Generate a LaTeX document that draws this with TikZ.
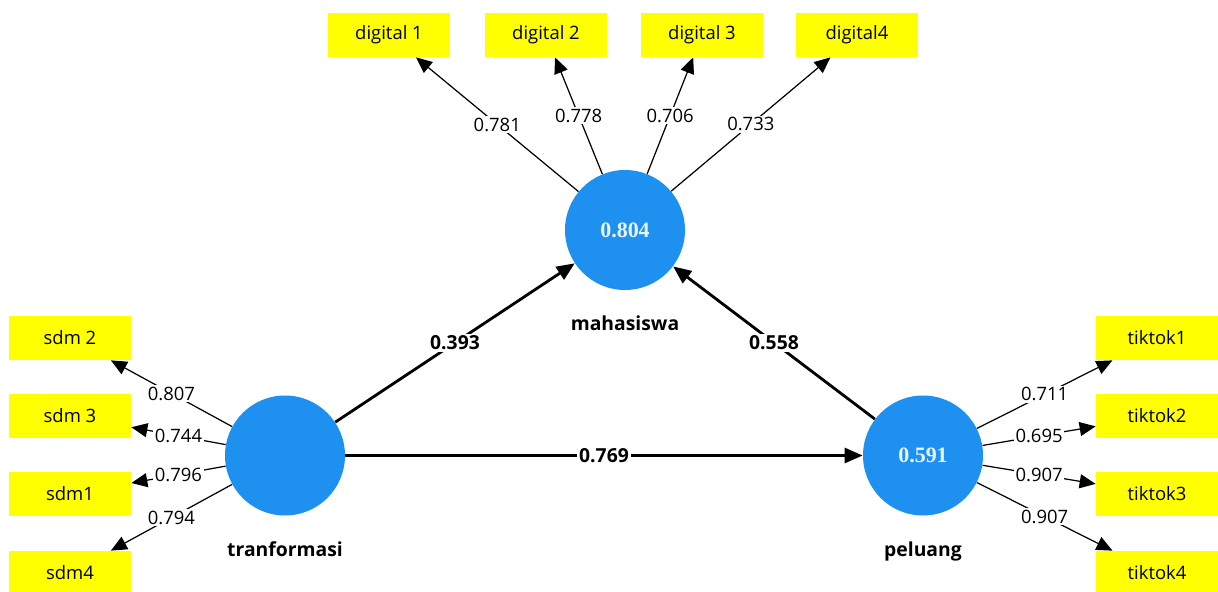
\documentclass[tikz,border=0pt]{standalone}
\usepackage{fontspec}
\setmainfont{Open Sans}
\newfontfamily\valfont{Liberation Serif}
\usepackage{xcolor}
\usetikzlibrary{arrows.meta,positioning}
\definecolor{lvblue}{HTML}{1E90F0}
\definecolor{mvyellow}{HTML}{FFFF00}
\definecolor{rsqwhite}{HTML}{E8F4FF}

\begin{document}
\begin{tikzpicture}[>={Triangle[length=0.32cm,width=0.28cm]},
  lv/.style={circle,fill=lvblue,minimum size=2.4cm,inner sep=0pt,text=rsqwhite,font=\valfont\bfseries\fontsize{12.5}{14}\selectfont},
  mv/.style={rectangle,fill=mvyellow,minimum width=2.44cm,minimum height=0.88cm,inner sep=0pt,font=\fontsize{10.5}{12}\selectfont},
  lvname/.style={inner sep=0pt,text height=1.6ex,text depth=0.4ex,font=\fontsize{11}{13}\selectfont\bfseries},
  load/.style={->,line width=0.7pt},
  struct/.style={->,line width=1.6pt,>={Triangle[length=0.36cm,width=0.3cm]}},
  lw/.style={fill=white,inner sep=1pt,font=\fontsize{10.5}{12}\selectfont},
  sw/.style={fill=white,inner sep=1pt,font=\fontsize{11}{13}\selectfont\bfseries}]
  \useasboundingbox (0,0) rectangle (24.36,11.82);

  % latent variables
  \node[lv] (mah) at (12.5,7.22) {0.804};
  \node[lv] (tra) at (5.7,2.71) {};
  \node[lv] (pel) at (18.46,2.71) {0.591};
  \node[lvname,below=0.5cm of mah] (mahL) {mahasiswa};
  \node[lvname,below=0.5cm of tra] (traL) {tranformasi};
  \node[lvname,below=0.5cm of pel] (pelL) {peluang};

  % indicators
  \node[mv] (d1) at (7.78,11.12) {digital 1};
  \node[mv] (d2) at (10.92,11.12) {digital 2};
  \node[mv] (d3) at (14.04,11.12) {digital 3};
  \node[mv] (d4) at (17.14,11.12) {digital4};
  \node[mv] (s2) at (1.4,5.06) {sdm 2};
  \node[mv] (s3) at (1.4,3.5) {sdm 3};
  \node[mv] (s1) at (1.4,1.94) {sdm1};
  \node[mv] (s4) at (1.4,0.36) {sdm4};
  \node[mv] (t1) at (23.14,5.06) {tiktok1};
  \node[mv] (t2) at (23.14,3.5) {tiktok2};
  \node[mv] (t3) at (23.14,1.94) {tiktok3};
  \node[mv] (t4) at (23.14,0.36) {tiktok4};

  % outer loadings
  \draw[load] (mah) -- node[lw] {0.781} (d1);
  \draw[load] (mah) -- node[lw] {0.778} (d2);
  \draw[load] (mah) -- node[lw] {0.706} (d3);
  \draw[load] (mah) -- node[lw] {0.733} (d4);
  \draw[load] (tra) -- node[lw] {0.807} (s2);
  \draw[load] (tra) -- node[lw] {0.744} (s3);
  \draw[load] (tra) -- node[lw] {0.796} (s1);
  \draw[load] (tra) -- node[lw] {0.794} (s4);
  \draw[load] (pel) -- node[lw] {0.711} (t1);
  \draw[load] (pel) -- node[lw] {0.695} (t2);
  \draw[load] (pel) -- node[lw] {0.907} (t3);
  \draw[load] (pel) -- node[lw] {0.907} (t4);

  % path coefficients
  \draw[struct] (tra) -- node[sw] {0.393} (mah);
  \draw[struct] (pel) -- node[sw] {0.558} (mah);
  \draw[struct] (tra) -- node[sw] {0.769} (pel);
\end{tikzpicture}
\end{document}
